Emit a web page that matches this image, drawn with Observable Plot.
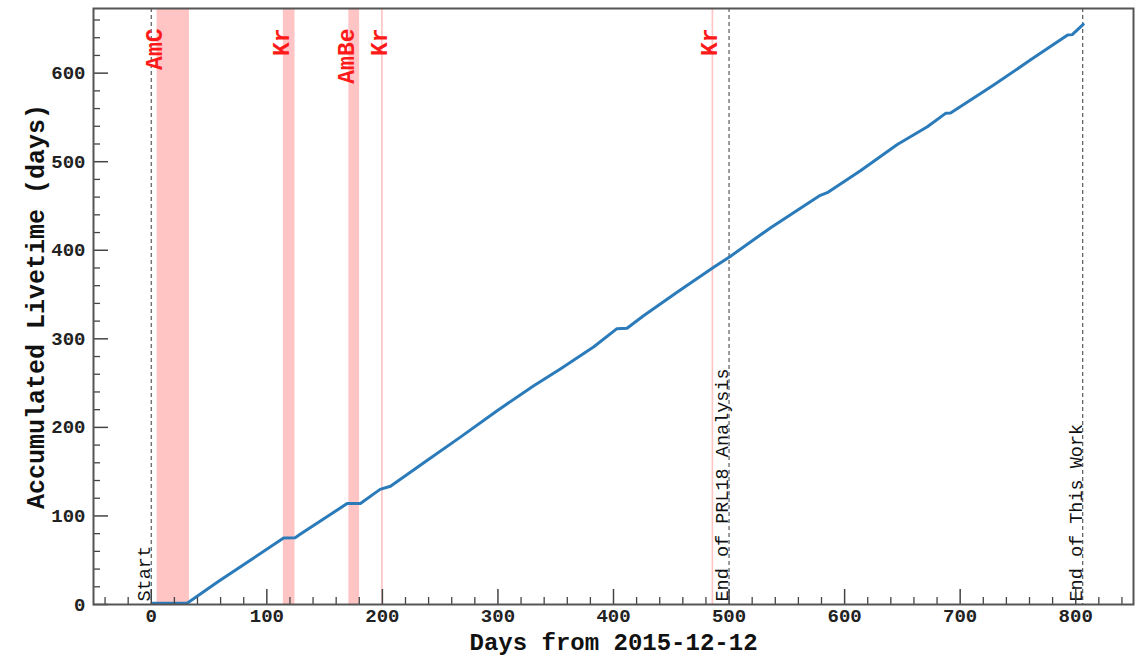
<!DOCTYPE html>
<html>
<head>
<meta charset="utf-8">
<script src="https://cdn.jsdelivr.net/npm/d3@7"></script>
<script src="https://cdn.jsdelivr.net/npm/@observablehq/plot@0.6"></script>
<style>
  html, body { margin: 0; padding: 0; background: white; }
  #chart svg { display: block; }
</style>
</head>
<body>
<div id="chart"></div>
<script>
// Accumulated livetime curve
const days = [1, 31, 58, 88, 114.5, 124.5, 128.5, 169.5, 181, 198, 207, 238.6, 267.5, 299, 331, 354, 383, 403, 411.7, 426, 455, 487, 501, 536, 567.7, 579, 585, 614, 645.6, 671.6, 687.4, 691.7, 709, 729, 761, 793, 797, 806.5];
const livetime = [1.5, 1.5, 26, 52, 75, 75.5, 79, 114, 114, 130, 133.5, 162.7, 189, 218.6, 247, 266, 291, 311.5, 312, 326, 352.6, 381, 393, 425.5, 452.6, 462, 465, 490, 519.5, 539.4, 554.6, 555, 569.6, 586.6, 615, 643, 643.5, 655];

// Calibration periods (shaded)
const calibStart = [5, 114.3, 171, 199.3, 485.3];
const calibEnd   = [33, 124.4, 180.3, 200.7, 486.7];
const calibLabels = ["AmC", "Kr", "AmBe", "Kr", "Kr"];

// Dashed markers
const markerDays = [0, 500, 806];
const markerLabels = ["Start", "End of PRL18 Analysis", "End of This Work"];

// Ticks
const xMajor = [0, 100, 200, 300, 400, 500, 600, 700, 800];
const xMinor = d3.range(-40, 850, 20).filter(v => v % 100 !== 0);
const yMajor = [0, 100, 200, 300, 400, 500, 600];
const yMinor = d3.range(20, 673, 20).filter(v => v % 100 !== 0);

const xTitle = "Days from 2015-12-12";
const yTitle = "Accumulated Livetime (days)";

const series = days.map((d, i) => ({day: d, live: livetime[i]}));
const calib = calibStart.map((s, i) => ({s, e: calibEnd[i], label: calibLabels[i]}));
const markers = markerDays.map((d, i) => ({d, label: markerLabels[i]}));

const FONT = "'Liberation Mono', 'DejaVu Sans Mono', monospace";
const AX = "#444";

const chart = Plot.plot({
  width: 1135,
  height: 657,
  marginLeft: 93,
  marginRight: 2,
  marginTop: 8,
  marginBottom: 53,
  x: {domain: [-50, 850]},
  y: {domain: [0, 673]},
  style: {fontFamily: FONT, background: "white", color: "#222"},
  marks: [
    Plot.rect(calib, {x1: "s", x2: "e", fill: "#ffc4c4"}),
    Plot.ruleX(markers, {x: "d", stroke: "#666", strokeWidth: 1.3, strokeDasharray: "4,3"}),
    Plot.text(markers, {x: "d", y: 0, text: "label", rotate: -90, textAnchor: "start", lineAnchor: "bottom", dx: -1, dy: -3, fontSize: 18.5, fill: "#111"}),
    Plot.line(series, {x: "day", y: "live", stroke: "#2b7bba", strokeWidth: 3}),
    Plot.text(calib, {x: "s", frameAnchor: "top", text: "label", rotate: -90, textAnchor: "end", lineAnchor: "middle", dx: -2, dy: 20, fontSize: 23, fontWeight: "bold", fill: "#ff1a1a"}),
    Plot.axisX({ticks: xMinor, tickSize: -7, fill: "none", stroke: AX, strokeWidth: 1.3}),
    Plot.axisX({ticks: xMajor, tickSize: -15, fill: "none", stroke: AX, strokeWidth: 1.5}),
    Plot.axisX({ticks: xMajor, tickSize: 0, tickPadding: 4, fontSize: 19, fontWeight: "bold", fill: "#222", label: null}),
    Plot.axisY({ticks: yMinor, tickSize: -7, fill: "none", stroke: AX, strokeWidth: 1.3}),
    Plot.axisY({ticks: yMajor, tickSize: -15, fill: "none", stroke: AX, strokeWidth: 1.5}),
    Plot.axisY({ticks: yMajor, tickSize: 0, tickPadding: 8, fontSize: 19, fontWeight: "bold", fill: "#222", label: null}),
    Plot.text([xTitle], {frameAnchor: "bottom", text: d => d, textAnchor: "middle", lineAnchor: "middle", dy: 37.5, fontSize: 24, fontWeight: "bold", fill: "#111"}),
    Plot.text([yTitle], {frameAnchor: "left", text: d => d, rotate: -90, textAnchor: "middle", lineAnchor: "middle", dx: -58, fontSize: 25, fontWeight: "bold", fill: "#111"}),
    Plot.frame({stroke: "#555", strokeWidth: 2})
  ]
});
document.getElementById("chart").appendChild(chart);
</script>
</body>
</html>
